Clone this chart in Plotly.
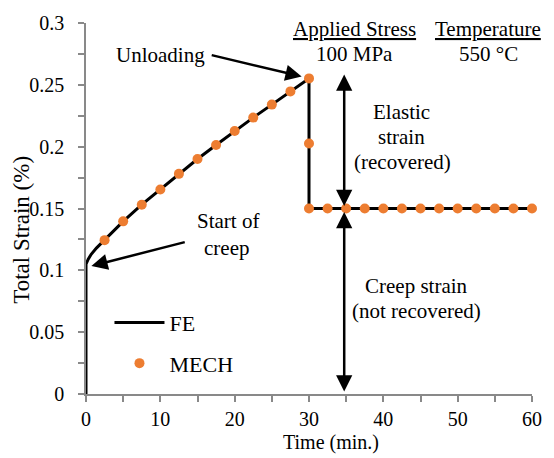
import plotly.graph_objects as go

# ---------------- data ----------------
fe_time = [0, 0, 0.3, 0.7, 1.4, 2.5, 5, 7.5, 10, 12.5, 15, 17.5, 20, 22.5, 25, 27.5, 30,
           30, 35, 40, 45, 50, 55, 60]
fe_strain = [0, 0.105, 0.109, 0.113, 0.118, 0.1244, 0.1396, 0.1531, 0.1654, 0.178, 0.190,
             0.2013, 0.2126, 0.2235, 0.234, 0.2447, 0.2552,
             0.150, 0.150, 0.150, 0.150, 0.150, 0.150, 0.150]

mech_time = [2.5, 5, 7.5, 10, 12.5, 15, 17.5, 20, 22.5, 25, 27.5, 30, 30, 30,
             32.5, 35, 37.5, 40, 42.5, 45, 47.5, 50, 52.5, 55, 57.5, 60]
mech_strain = [0.1244, 0.1396, 0.1531, 0.1654, 0.178, 0.190, 0.2013, 0.2126, 0.2235,
               0.234, 0.2447, 0.2552, 0.2026, 0.150,
               0.150, 0.150, 0.150, 0.150, 0.150, 0.150, 0.150, 0.150, 0.150, 0.150,
               0.150, 0.150]

x_title = "Time (min.)"
y_title = "Total Strain (%)"

# ---------------- layout geometry ----------------
W, H = 554, 458
ML, MR, MT, MB = 86, 12, 20, 64
PW, PH = W - ML - MR, H - MT - MB
XMAX, YMAX = 60, 0.3


def px2x(p):
    return (p - ML) / PW * XMAX


def px2y(p):
    return (MT + PH - p) / PH * YMAX


def px2px(p):
    return (p - ML) / PW


def py2py(p):
    return (MT + PH - p) / PH


FONT = "Liberation Serif"
AXC = "#898989"

fig = go.Figure()
fig.add_trace(go.Scatter(x=fe_time, y=fe_strain, mode="lines", name="FE",
                         line=dict(color="black", width=3), legendgroup="a",
                         cliponaxis=False))
fig.add_trace(go.Scatter(x=mech_time, y=mech_strain, mode="markers", name="MECH",
                         marker=dict(color="#ED7D31", size=10, line=dict(width=0)),
                         legendgroup="b", cliponaxis=False))

ann = []


def text(t, xp, yp, size=21, angle=0, **kw):
    ann.append(dict(text=t, x=px2px(xp), y=py2py(yp), xref="paper", yref="paper",
                    xanchor="center", yanchor="middle",
                    showarrow=False, textangle=angle,
                    font=dict(family=FONT, size=size, color="black", **kw)))


text("Unloading", 162, 52)
text("Start of", 231, 220)
text("creep", 229.5, 246.5)
text("Applied Stress", 361, 26.5, lineposition="under")
text("100 MPa", 361, 51.5)
text("Temperature", 497, 26.5, lineposition="under")
text("550 °C", 498, 51.5)
text("Elastic", 409, 110)
text("strain", 409, 135)
text("(recovered)", 409.5, 160)
text("Creep strain", 423.5, 285)
text("(not recovered)", 424, 310)

# axis titles
text(x_title, 336, 443, size=20)
text(y_title, 20, 228, size=23, angle=-90)


def arrow(x0, y0, x1, y1, both=False):
    d = dict(text="", x=px2x(x1), y=px2y(y1), ax=px2x(x0), ay=px2y(y0),
             xref="x", yref="y", axref="x", ayref="y", showarrow=True,
             arrowhead=2, arrowsize=1.3, arrowwidth=2.5, arrowcolor="black",
             standoff=0, startstandoff=0)
    if both:
        d.update(arrowside="end+start", startarrowhead=2, startarrowsize=1.3)
    ann.append(d)


arrow(213, 52, 306.5, 74)
arrow(188.5, 240.5, 91.5, 265)
arrow(350, 206, 350, 72, both=True)
arrow(350, 209, 350, 391.5, both=True)

fig.update_layout(
    width=W, height=H,
    margin=dict(l=ML, r=MR, t=MT, b=MB, pad=0),
    paper_bgcolor="white", plot_bgcolor="white",
    font=dict(family=FONT, size=20, color="black"),
    showlegend=True,
    legend=dict(x=px2px(110), y=py2py(301), xanchor="left", yanchor="top",
                bgcolor="rgba(0,0,0,0)", font=dict(family=FONT, size=22),
                tracegroupgap=9, itemwidth=50),
    annotations=ann,
)
fig.update_xaxes(range=[0, XMAX], dtick=10, tick0=0, showgrid=False, zeroline=False,
                 showline=True, linecolor=AXC, linewidth=1.5,
                 ticks="outside", ticklen=6, tickcolor=AXC, tickwidth=1.5,
                 ticklabelstandoff=0,
                 minor=dict(dtick=5, ticks="outside", ticklen=6, tickcolor=AXC,
                            tickwidth=1.5, showgrid=False),
                 tickfont=dict(family=FONT, size=20, color="black"))
fig.update_yaxes(range=[0, YMAX], dtick=0.05, tick0=0, showgrid=False, zeroline=False,
                 showline=True, linecolor=AXC, linewidth=1.5,
                 ticks="outside", ticklen=6, tickcolor=AXC, tickwidth=1.5,
                 ticklabelstandoff=10,
                 minor=dict(dtick=0.025, ticks="outside", ticklen=6, tickcolor=AXC,
                            tickwidth=1.5, showgrid=False),
                 tickfont=dict(family=FONT, size=20, color="black"))

fig.write_html("out.html")
